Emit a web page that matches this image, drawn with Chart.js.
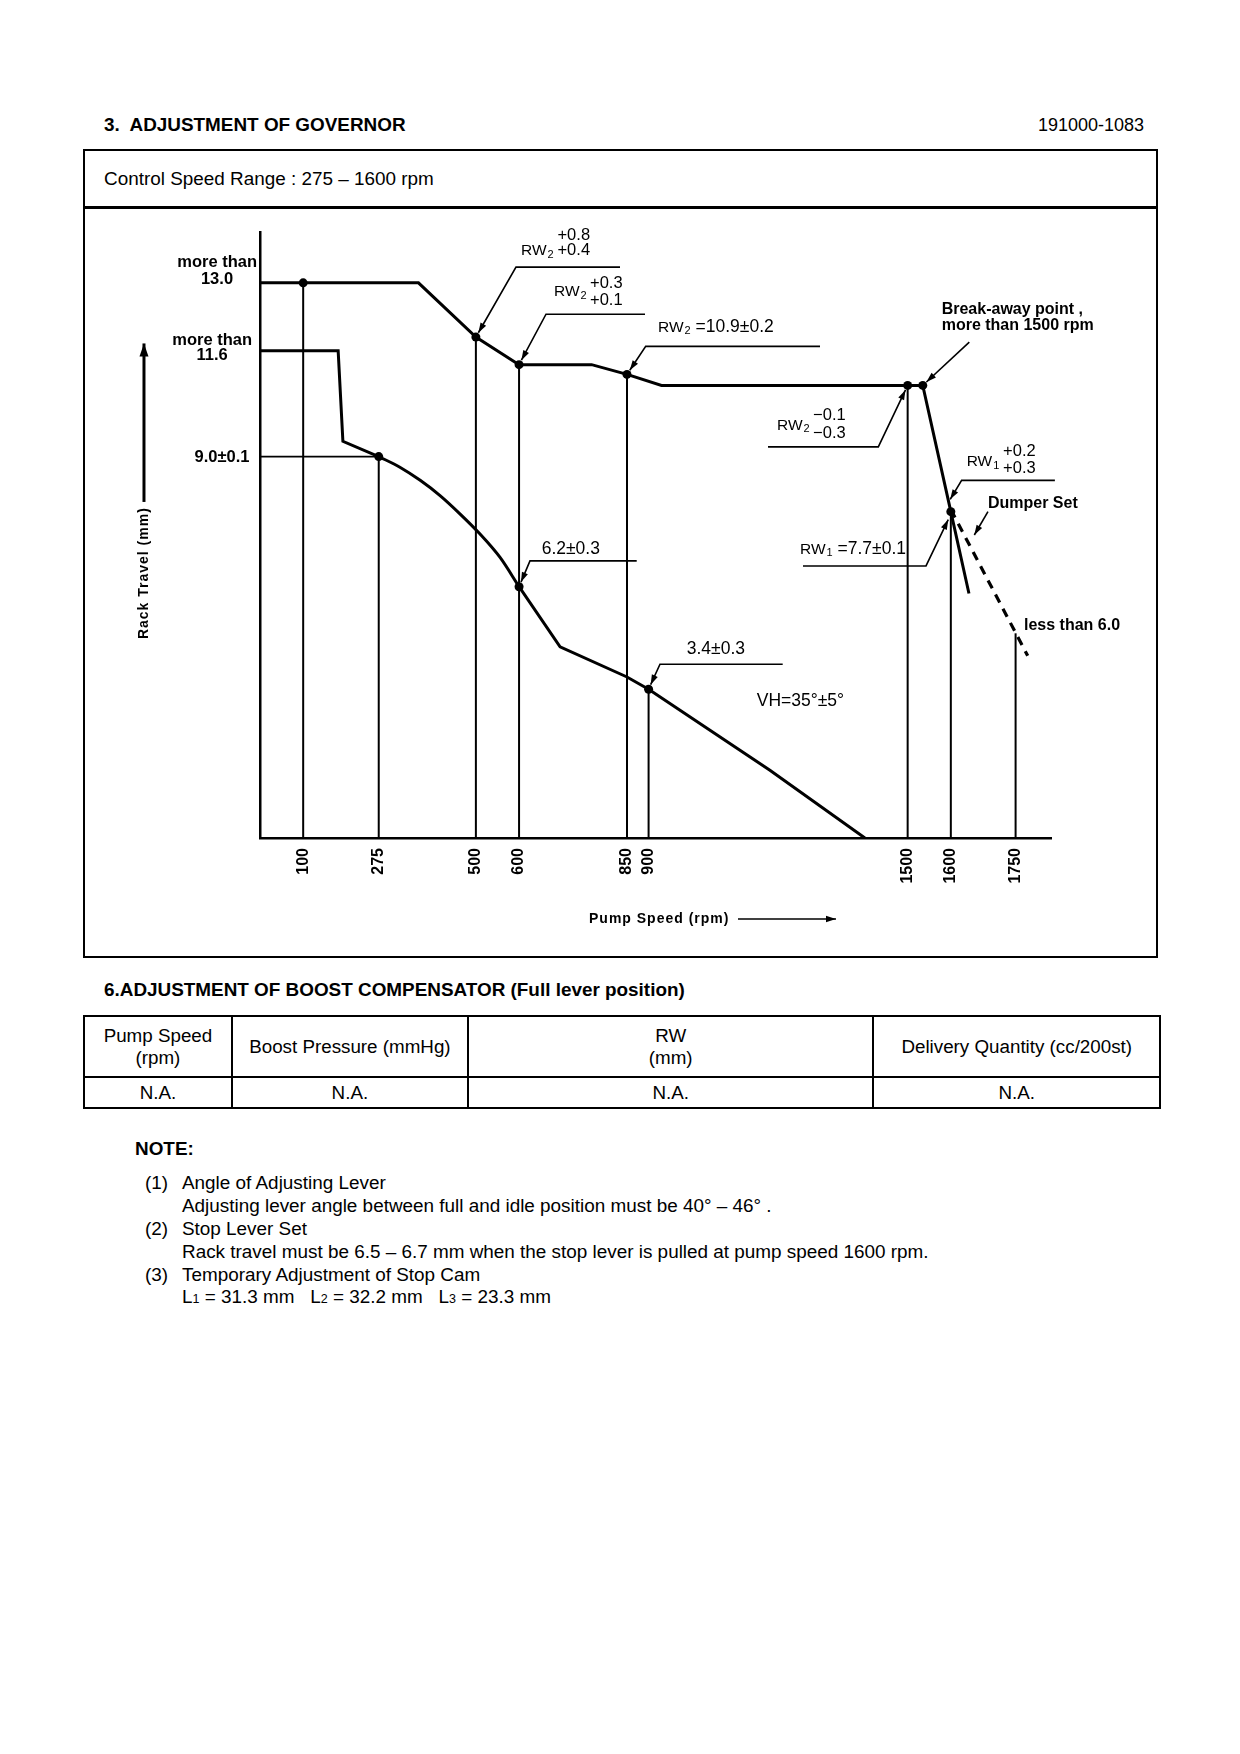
<!DOCTYPE html>
<html><head><meta charset="utf-8">
<script src="https://cdn.jsdelivr.net/npm/chart.js@4.4.1/dist/chart.umd.min.js"></script>
<style>
html,body{margin:0;padding:0;background:#fff;}
body{width:1240px;height:1754px;position:relative;font-family:"Liberation Sans",Arial,Helvetica,sans-serif;color:#000;font-size:18.9px;overflow:hidden;}
.t{position:absolute;white-space:nowrap;line-height:20px;transform:translateY(-50%);}
.b{font-weight:bold;}
#box{position:absolute;left:83px;top:149px;width:1075px;height:809px;border:2.5px solid #000;box-sizing:border-box;}
#div1{position:absolute;left:83px;top:206px;width:1075px;height:2.5px;background:#000;}
#cv{position:absolute;left:85px;top:209px;}
table{position:absolute;left:83px;top:1015px;width:1078px;border-collapse:collapse;font-size:18.8px;}
td{border:2px solid #000;text-align:center;padding:0;line-height:22px;}
sub{font-size:12.5px;vertical-align:0;}
</style>
</head><body>
<div class="t b" style="left:104px;top:125px;">3.&nbsp; ADJUSTMENT OF GOVERNOR</div>
<div class="t" style="right:96px;top:125px;font-size:18px;">191000-1083</div>
<div id="box"></div>
<div id="div1"></div>
<div class="t" style="left:104px;top:179px;">Control Speed Range : 275 – 1600 rpm</div>
<canvas id="cv" width="1071" height="747"></canvas>

<div class="t b" style="left:104px;top:990px;">6.ADJUSTMENT OF BOOST COMPENSATOR (Full lever position)</div>
<table id="tbl"></table>
<div id="notes"></div>

<script>
// ---------------- data ----------------
const xTickValues = [100, 275, 500, 600, 850, 900, 1500, 1600, 1750];

// full-load (upper) rack curve
const fullLoadSpeed = [0, 367, 500, 600, 768, 850, 930, 1500, 1535, 1600, 1642];
const fullLoadRack  = [13.1, 13.1, 11.82, 11.17, 11.17, 10.94, 10.68, 10.68, 10.68, 7.7, 5.77];

// lower rack curve: step part, curved part, tail
const lowStepSpeed = [0, 181, 192, 275];
const lowStepRack  = [11.5, 11.5, 9.36, 9.0];
const lowBendSpeed = [275, 324, 371, 417, 463, 508, 556, 600];
const lowBendRack  = [9.0, 8.75, 8.44, 8.08, 7.65, 7.19, 6.62, 5.93];
const lowTailSpeed = [600, 695, 850, 900, 1181, 1401];
const lowTailRack  = [5.93, 4.51, 3.80, 3.51, 1.60, 0];

// damper set (dashed)
const damperSpeed = [1600, 1778];
const damperRack  = [7.75, 4.3];

// vertical drop lines
const dropSpeed = [100, 275, 500, 600, 850, 900, 1500, 1600, 1750];
const dropRack  = [13.1, 9.0, 11.82, 11.17, 10.94, 3.51, 10.68, 7.7, 4.83];

// 9.0 reference
const refSpeed = [0, 275];
const refRack  = [9.0, 9.0];

// measuring points
const markSpeed = [100, 275, 500, 600, 850, 1500, 1535, 1600, 600, 900];
const markRack  = [13.1, 9.0, 11.82, 11.17, 10.94, 10.68, 10.68, 7.7, 5.93, 3.51];

// table
const boostHeaders = [['Pump Speed','(rpm)'], ['Boost Pressure (mmHg)'], ['RW','(mm)'], ['Delivery Quantity (cc/200st)']];
const boostValues = ['N.A.', 'N.A.', 'N.A.', 'N.A.'];

// notes
const noteItems = [
  ['(1)', 'Angle of Adjusting Lever', 'Adjusting lever angle between full and idle position must be 40° – 46° .'],
  ['(2)', 'Stop Lever Set', 'Rack travel must be 6.5 – 6.7 mm when the stop lever is pulled at pump speed 1600 rpm.'],
  ['(3)', 'Temporary Adjustment of Stop Cam', 'L<sub>1</sub> = 31.3 mm &nbsp; L<sub>2</sub> = 32.2 mm &nbsp; L<sub>3</sub> = 23.3 mm']
];

// ---------------- annotations (data coordinates) ----------------
const labelItems = [
  {x:604.5, y:13.86, t:'RW', sub:'2', size:15.5},
  {x:689, y:14.23, t:'+0.8', size:16.5},
  {x:689, y:13.86, t:'+0.4', size:16.5},
  {x:680.9, y:12.88, t:'RW', sub:'2', size:15.5},
  {x:764.3, y:13.09, t:'+0.3', size:16.5},
  {x:764.3, y:12.69, t:'+0.1', size:16.5},
  {x:921.8, y:12.05, t:'RW', sub:'2', size:15.5, after:' =10.9±0.2'},
  {x:1578.8, y:12.47, t:'Break-away point ,', bold:true, size:16},
  {x:1578.8, y:12.10, t:'more than 1500 rpm', bold:true, size:16},
  {x:1197.4, y:9.74, t:'RW', sub:'2', size:15.5},
  {x:1281, y:9.98, t:'−0.1', size:16.5},
  {x:1281, y:9.55, t:'−0.3', size:16.5},
  {x:1636.7, y:8.87, t:'RW', sub:'1', size:15.5},
  {x:1721, y:9.13, t:'+0.2', size:16.5},
  {x:1721, y:8.73, t:'+0.3', size:16.5},
  {x:1686, y:7.90, t:'Dumper Set', bold:true, size:16},
  {x:1250.7, y:6.81, t:'RW', sub:'1', size:15.5, after:' =7.7±0.1'},
  {x:1769.5, y:5.02, t:'less than 6.0', bold:true, size:16},
  {x:652.4, y:6.82, t:'6.2±0.3'},
  {x:988.3, y:4.46, t:'3.4±0.3'},
  {x:1150.4, y:3.23, t:'VH=35°±5°'},
  {x:-6.9, y:13.58, t:'more than', align:'right', bold:true, size:16.5},
  {x:-99.6, y:13.18, t:'13.0', align:'center', bold:true, size:16.5},
  {x:-18.5, y:11.75, t:'more than', align:'right', bold:true, size:16.5},
  {x:-111, y:11.39, t:'11.6', align:'center', bold:true, size:16.5},
  {x:-24.3, y:8.99, t:'9.0±0.1', align:'right', bold:true, size:16.5},
  {x:762, y:-1.91, t:'Pump Speed (rpm)', bold:true, size:14, spacing:'1px'}
];
const leaderLines = [
  {xs:[833.8, 592.9, 500], ys:[13.47, 13.47, 11.82], gap:5},
  {xs:[891.7, 662.4, 600], ys:[12.36, 12.36, 11.17], gap:5},
  {xs:[1297, 893.3, 850], ys:[11.60, 11.60, 10.94], gap:5},
  {xs:[1642.8, 1535], ys:[11.70, 10.68], gap:5},
  {xs:[1176.6, 1432, 1500], ys:[9.23, 9.23, 10.68], gap:5},
  {xs:[1841, 1625, 1595], ys:[8.44, 8.44, 7.93], gap:3},
  {xs:[1686, 1654.4], ys:[7.70, 7.15], gap:0},
  {xs:[1257.6, 1542.5, 1598], ys:[6.42, 6.42, 7.6], gap:4},
  {xs:[872.5, 625.3, 600], ys:[6.54, 6.54, 5.93], gap:5},
  {xs:[1210.6, 926.4, 900], ys:[4.10, 4.10, 3.51], gap:5},
  {xs:[1107, 1334], ys:[-1.91, -1.91], gap:0},
  {xs:[-268.7, -268.7], ys:[7.93, 11.67], gap:0, width:3, big:true}
];

// ---------------- page text ----------------
(function(){
  const tbl = document.getElementById('tbl');
  const widths = [147, 236, 408, 287];
  let r1 = '<tr style="height:61px">';
  boostHeaders.forEach((h,i)=>{ r1 += '<td style="width:'+widths[i]+'px">'+h.join('<br>')+'</td>'; });
  r1 += '</tr><tr style="height:31px">';
  boostValues.forEach(v=>{ r1 += '<td>'+v+'</td>'; });
  r1 += '</tr>';
  tbl.innerHTML = r1;
  const notes = document.getElementById('notes');
  let h = '<div class="t b" style="left:135px;top:1149px;">NOTE:</div>';
  let y = 1183;
  noteItems.forEach(n=>{
    h += '<div class="t" style="left:145px;top:'+y+'px;">'+n[0]+'</div>';
    h += '<div class="t" style="left:182px;top:'+y+'px;">'+n[1]+'</div>';
    y += 23;
    h += '<div class="t" style="left:182px;top:'+y+'px;">'+n[2]+'</div>';
    y += 23;
  });
  notes.innerHTML = h;
})();

// ---------------- chart ----------------
const FAM = '"Liberation Sans", Arial, Helvetica, sans-serif';
Chart.defaults.font.family = FAM;
Chart.defaults.color = '#000';

const pts = (xs, ys) => xs.map((x,i)=>({x:x, y:ys[i]}));
const lineDs = (data, w, extra) => Object.assign({type:'line', data:data, borderColor:'#000', backgroundColor:'#000', borderWidth:w, pointRadius:0, fill:false, tension:0}, extra||{});

const datasets = [];
datasets.push({type:'scatter', data:pts(markSpeed, markRack), pointRadius:4.5, pointBackgroundColor:'#000', pointBorderWidth:0, showLine:false});
datasets.push(lineDs(pts(fullLoadSpeed, fullLoadRack), 3));
datasets.push(lineDs(pts(lowStepSpeed, lowStepRack), 3));
datasets.push(lineDs(pts(lowBendSpeed, lowBendRack), 3, {cubicInterpolationMode:'monotone'}));
datasets.push(lineDs(pts(lowTailSpeed, lowTailRack), 3));
datasets.push(lineDs(pts(damperSpeed, damperRack), 3.2, {borderDash:[9,7]}));
datasets.push(lineDs(pts(refSpeed, refRack), 1.6));
dropSpeed.forEach((s,i)=>{ datasets.push(lineDs([{x:s,y:0},{x:s,y:dropRack[i]}], 2)); });

const annotPlugin = {
  id:'annot',
  afterDraw(chart){
    const ctx = chart.ctx, xs = chart.scales.x, ys = chart.scales.y;
    const px = v => xs.getPixelForValue(v), py = v => ys.getPixelForValue(v);
    ctx.save();
    ctx.strokeStyle = '#000'; ctx.fillStyle = '#000';
    leaderLines.forEach(l=>{
      const P = l.xs.map((xv,i)=>[px(xv), py(l.ys[i])]);
      const n = P.length;
      let [x1,y1] = P[n-2], [x2,y2] = P[n-1];
      const a = Math.atan2(y2-y1, x2-x1);
      x2 -= l.gap*Math.cos(a); y2 -= l.gap*Math.sin(a);
      P[n-1] = [x2,y2];
      ctx.lineWidth = l.width || 1.6;
      ctx.beginPath();
      P.forEach((p,i)=> i ? ctx.lineTo(p[0],p[1]) : ctx.moveTo(p[0],p[1]));
      ctx.stroke();
      const L = l.big ? 13 : 10, W = l.big ? 4.5 : 3.2;
      ctx.beginPath();
      ctx.moveTo(x2,y2);
      ctx.lineTo(x2 - L*Math.cos(a) + W*Math.sin(a), y2 - L*Math.sin(a) - W*Math.cos(a));
      ctx.lineTo(x2 - L*Math.cos(a) - W*Math.sin(a), y2 - L*Math.sin(a) + W*Math.cos(a));
      ctx.closePath(); ctx.fill();
    });
    ctx.textBaseline = 'middle';
    labelItems.forEach(it=>{
      const size = it.size || 17.5;
      const font = (it.bold ? 'bold ' : '') + size + 'px ' + FAM;
      ctx.font = font;
      ctx.letterSpacing = it.spacing || '0px';
      ctx.textAlign = it.align || 'left';
      let X = px(it.x); const Y = py(it.y);
      ctx.fillText(it.t, X, Y);
      if (it.sub) {
        X += ctx.measureText(it.t).width;
        ctx.font = Math.round(size*0.68) + 'px ' + FAM;
        ctx.fillText(it.sub, X + 1, Y + 4);
        X += ctx.measureText(it.sub).width + 1;
        if (it.after) { ctx.font = '17.5px ' + FAM; ctx.fillText(it.after, X, Y); }
      }
    });
    // rotated y-axis title
    ctx.save();
    ctx.translate(px(-268.7), py(6.25));
    ctx.rotate(-Math.PI/2);
    ctx.font = 'bold 14px ' + FAM;
    ctx.letterSpacing = '1px';
    ctx.textAlign = 'center';
    ctx.fillText('Rack Travel (mm)', 0, 0);
    ctx.restore();
    ctx.restore();
  }
};

new Chart(document.getElementById('cv'), {
  data: {datasets: datasets},
  options: {
    responsive:false, animation:false, devicePixelRatio:1,
    layout:{padding:{top:23, right:105, left:0, bottom:0}},
    plugins:{legend:{display:false}, tooltip:{enabled:false}},
    scales:{
      x:{type:'linear', min:0, max:1832,
         afterBuildTicks: s => { s.ticks = xTickValues.map(v=>({value:v})); },
         afterFit: s => { s.height = 118; },
         grid:{display:false, drawTicks:false, tickLength:0},
         border:{display:true, color:'#000', width:2.5},
         ticks:{autoSkip:false, minRotation:90, maxRotation:90, padding:10, color:'#000',
                font:{size:16, weight:'bold'}, callback: v => String(v)}
      },
      y:{type:'linear', min:0, max:14.3,
         afterFit: s => { s.width = 175; },
         grid:{display:false, drawTicks:false, tickLength:0},
         border:{display:true, color:'#000', width:2.5},
         ticks:{display:false}
      }
    }
  },
  plugins:[annotPlugin]
});
</script>
</body></html>
